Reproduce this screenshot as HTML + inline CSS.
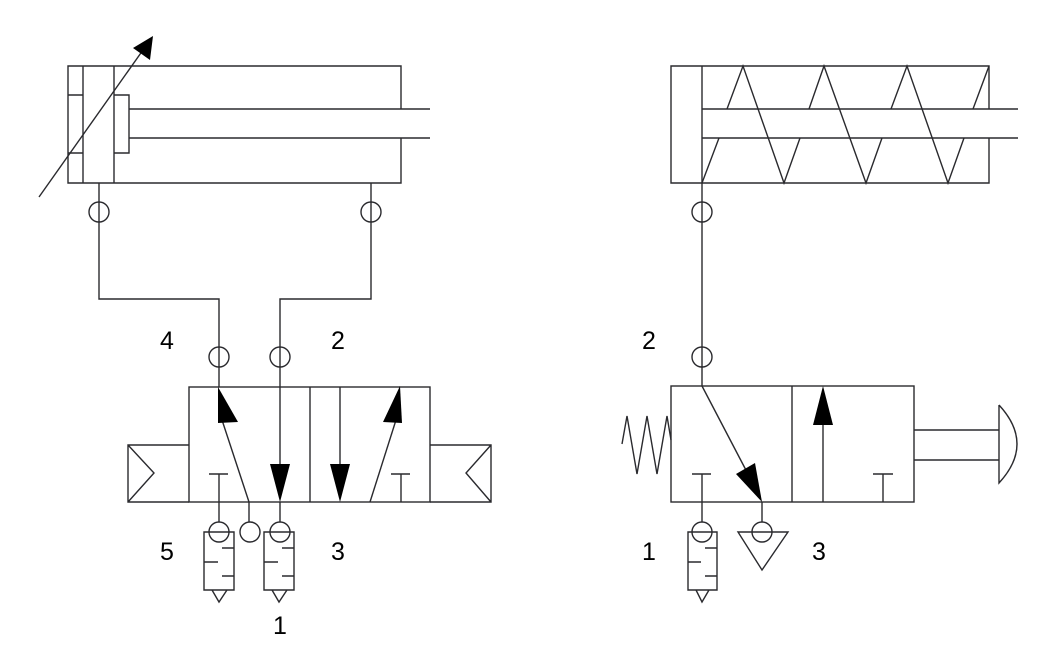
<!DOCTYPE html>
<html><head><meta charset="utf-8"><style>
html,body{margin:0;padding:0;background:#fff;width:1044px;height:662px;overflow:hidden}
svg text{font-family:"Liberation Sans",Arial,sans-serif;font-size:25px;fill:#000}
</style></head><body>
<svg width="1044" height="662" viewBox="0 0 1044 662" xmlns="http://www.w3.org/2000/svg">
<g fill="none" stroke="#2a2a2e" stroke-width="1.4">
<!-- left cylinder -->
<path d="M401,109 V66 H68 V183 H401 V138"/>
<line x1="83" y1="66" x2="83" y2="183"/>
<line x1="114" y1="66" x2="114" y2="183"/>
<path d="M68,95 H83 M68,153 H83"/>
<path d="M114,95 H129 V153 H114"/>
<path d="M129,109 H430 M129,138 H430"/>
<line x1="39" y1="197" x2="143" y2="50"/>
<!-- ports -->
<path d="M99,183 V299 H219 V387"/>
<path d="M371,183 V299 H280 V466"/>
<circle cx="99" cy="212" r="10"/><circle cx="371" cy="212" r="10"/>
<circle cx="219" cy="357" r="10"/><circle cx="280" cy="357" r="10"/>
<!-- valve -->
<rect x="189" y="387" width="241" height="115"/>
<line x1="310" y1="387" x2="310" y2="502"/>
<path d="M189,445 H128 V502 H189 M128,445 L154,473 L128,502"/>
<path d="M430,445 H491 V502 H430 M491,445 L466,473 L491,502"/>
<line x1="249" y1="502" x2="222" y2="420"/>
<path d="M209,474 H228 M219,474 V522"/>
<line x1="280" y1="502" x2="280" y2="522"/>
<line x1="340" y1="387" x2="340" y2="466"/>
<line x1="370" y1="502" x2="396" y2="420"/>
<path d="M391,474 H410 M401,474 V502"/>
<circle cx="219" cy="532" r="10"/><circle cx="250" cy="532" r="10"/><circle cx="280" cy="532" r="10"/>
<line x1="249" y1="502" x2="249" y2="522"/>
<!-- silencers -->
<path d="M204,532 V590 H234 V532 Z M222,548 H234 M204,562 H218 M222,576 H234 M212,590 L219,602 L227,590"/>
<path d="M264,532 V590 H294 V532 Z M282,548 H294 M264,562 H278 M282,576 H294 M272,590 L279,602 L287,590"/>
<!-- right cylinder -->
<path d="M989,109 V66 H671 V183 H989 V138"/>
<line x1="702" y1="66" x2="702" y2="386"/>
<path d="M702,109 H1018 M702,138 H1018"/>
<path d="M702,183 L719,138 M727,109 L743,66 L784,183 L800,138 M809,109 L824,66 L866,183 L882,138 M891,109 L907,66 L948,183 L964,138 M973,109 L989,66"/>
<circle cx="702" cy="212" r="10"/><circle cx="702" cy="357" r="10"/>
<!-- right valve -->
<rect x="671" y="386" width="243" height="116"/>
<line x1="792" y1="386" x2="792" y2="502"/>
<line x1="702" y1="386" x2="748" y2="474"/>
<path d="M692,474 H711 M702,474 V522"/>
<line x1="762" y1="502" x2="762" y2="522"/>
<line x1="823" y1="425" x2="823" y2="502"/>
<path d="M873,474 H893 M883,474 V502"/>
<circle cx="702" cy="532" r="10"/><circle cx="762" cy="532" r="10"/>
<path d="M738,532 H788 L762,570 Z"/>
<path d="M688,532 V590 H717 V532 Z M705,548 H717 M688,562 H701 M705,576 H717 M696,590 L702,602 L709,590"/>
<path d="M622,444 L627,416 L637,474 L647,416 L657,474 L667,416 L671,440"/>
<path d="M914,430 H999 M914,460 H999 M999,405 V483 Q1035,444 999,405"/>
</g>
<g fill="#000" stroke="none">
<polygon points="153,36 150,60 133,48"/>
<polygon points="218,387 238,422 218,423"/>
<polygon points="270,464 290,464 280,502"/>
<polygon points="330,464 350,464 340,502"/>
<polygon points="400,386 402,423 383,422"/>
<polygon points="762,502 736,474 755,463"/>
<polygon points="823,386 813,425 833,425"/>
</g>
<text x="160" y="349">4</text>
<text x="331" y="349">2</text>
<text x="160" y="560">5</text>
<text x="331" y="560">3</text>
<text x="273" y="634">1</text>
<text x="642" y="349">2</text>
<text x="642" y="560">1</text>
<text x="812" y="560">3</text>
</svg>
</body></html>
